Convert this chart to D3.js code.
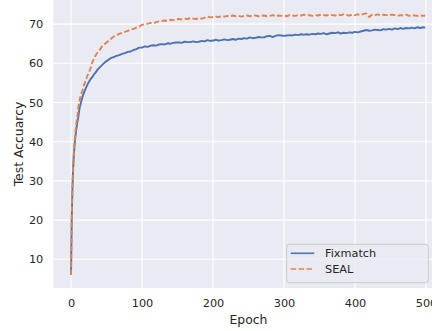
<!DOCTYPE html>
<html>
<head>
<meta charset="utf-8">
<script src="https://cdn.jsdelivr.net/npm/d3@7"></script>
<style>
  body { margin: 0; background: #fff; }
  text { font-family: "DejaVu Sans", sans-serif; fill: #262626; }
</style>
</head>
<body>
<div id="chart"></div>
<script>
// epochs sampled from the curves (denser at the start where it climbs fast)
const epochs = [
    0, 1, 2, 3, 4, 5, 6, 7, 8, 9,
    10, 12, 14, 16, 18, 20, 22, 24, 26, 28,
    30, 32, 34, 36, 38, 40, 44, 48, 52, 56,
    60, 64, 68, 72, 76, 80, 84, 88, 92, 96,
    100, 104, 108, 112, 116, 120, 124, 128, 132, 136,
    140, 144, 148, 152, 156, 160, 164, 168, 172, 176,
    180, 184, 188, 192, 196, 200, 204, 208, 212, 216,
    220, 224, 228, 232, 236, 240, 244, 248, 252, 256,
    260, 264, 268, 272, 276, 280, 284, 288, 292, 296,
    300, 304, 308, 312, 316, 320, 324, 328, 332, 336,
    340, 344, 348, 352, 356, 360, 364, 368, 372, 376,
    380, 384, 388, 392, 396, 400, 404, 408, 412, 416,
    420, 424, 428, 432, 436, 440, 444, 448, 452, 456,
    460, 464, 468, 472, 476, 480, 484, 488, 492, 496,
    499
];

const fixmatch = [
    6.0, 20.0, 28.0, 33.0, 36.5, 39.0, 41.0, 42.5, 43.8, 45.0,
    46.0, 48.5, 50.0, 51.3, 52.4, 53.3, 54.1, 54.9, 55.5, 56.1,
    56.5, 57.1, 57.5, 58.0, 58.5, 58.9, 59.6, 60.3, 60.8, 61.3,
    61.6, 61.9, 62.1, 62.4, 62.6, 62.9, 63.0, 63.4, 63.6, 64.0,
    64.0, 64.3, 64.2, 64.5, 64.6, 64.5, 64.8, 64.9, 64.8, 65.1,
    65.0, 65.2, 65.3, 65.3, 65.2, 65.5, 65.4, 65.4, 65.6, 65.4,
    65.5, 65.7, 65.6, 65.9, 65.7, 65.8, 66.0, 65.8, 65.9, 66.1,
    65.9, 66.0, 66.2, 66.0, 66.3, 66.2, 66.4, 66.3, 66.6, 66.4,
    66.5, 66.7, 66.6, 66.6, 66.9, 67.0, 66.7, 67.0, 67.2, 67.1,
    67.0, 67.1, 67.2, 67.1, 67.3, 67.2, 67.4, 67.3, 67.4, 67.3,
    67.5, 67.4, 67.6, 67.5, 67.7, 67.4, 67.6, 67.8, 67.7, 67.9,
    67.6, 67.8, 67.7, 67.9, 67.8, 68.0, 67.9, 68.1, 68.3, 68.5,
    68.3, 68.4, 68.6, 68.5, 68.4, 68.7, 68.6, 68.8, 68.6, 68.9,
    68.7, 69.0, 68.8, 69.0, 68.9, 69.1, 68.9, 69.2, 69.0, 69.2,
    69.1
];

const seal = [
    6.0, 21.0, 29.0, 34.0, 37.5, 40.0, 42.0, 43.8, 45.3, 46.5,
    48.3, 50.5, 52.0, 53.0, 54.3, 55.3, 56.3, 57.2, 58.0, 59.0,
    60.3, 61.0, 61.8, 62.4, 62.9, 63.3, 64.4, 65.0, 65.6, 66.2,
    66.8, 67.2, 67.5, 67.8, 68.0, 68.3, 68.6, 68.8, 69.1, 69.3,
    69.8, 70.0, 70.1, 70.3, 70.2, 70.5, 70.7, 70.8, 70.9, 70.8,
    71.1, 71.0, 71.2, 71.3, 71.2, 71.4, 71.3, 71.5, 71.4, 71.3,
    71.5, 71.4, 71.6, 71.9, 71.7, 71.8, 71.9, 71.8, 72.0, 71.9,
    72.1, 72.0, 72.2, 72.0, 72.1, 71.9, 72.1, 72.2, 72.0, 72.1,
    72.2, 72.0, 72.1, 72.2, 72.0, 72.1, 72.3, 72.0, 72.2, 72.1,
    72.2, 72.0, 72.3, 72.2, 72.1, 72.3, 72.2, 72.4, 72.2, 72.3,
    72.1, 72.3, 72.2, 72.4, 72.3, 72.2, 72.4, 72.3, 72.2, 72.4,
    72.3, 72.5, 72.3, 72.2, 72.4, 72.3, 72.5, 72.3, 72.6, 72.7,
    71.8, 72.4, 72.3, 72.5, 72.2, 72.4, 72.3, 72.2, 72.4, 72.3,
    72.1, 72.3, 72.2, 72.4, 72.1, 72.3, 72.2, 72.1, 72.2, 72.1,
    72.2
];

const xTicks = [0, 100, 200, 300, 400, 500];
const yTicks = [10, 20, 30, 40, 50, 60, 70];
const seriesNames = ["Fixmatch", "SEAL"];

function createChart() {
    const width = 432;
    const height = 331;
    const plot = { left: 53.3, right: 443, top: -0.8, bottom: 288.1 };

    const svg = d3.select("#chart")
        .append("svg")
        .attr("width", width)
        .attr("height", height);

    const xScale = d3.scaleLinear()
        .domain([-24.95, 523.95])
        .range([plot.left, plot.right]);

    const yScale = d3.scaleLinear()
        .domain([2.65, 76.35])
        .range([plot.bottom, plot.top]);

    // seaborn darkgrid background
    svg.append("rect")
        .attr("x", plot.left)
        .attr("y", 0)
        .attr("width", plot.right - plot.left)
        .attr("height", plot.bottom)
        .attr("fill", "#EAEAF2");

    // grid
    svg.append("g")
        .selectAll("line")
        .data(xTicks)
        .enter().append("line")
        .attr("x1", d => xScale(d)).attr("x2", d => xScale(d))
        .attr("y1", 0).attr("y2", plot.bottom)
        .attr("stroke", "#fff").attr("stroke-width", 1.1);

    svg.append("g")
        .selectAll("line")
        .data(yTicks)
        .enter().append("line")
        .attr("x1", plot.left).attr("x2", plot.right)
        .attr("y1", d => yScale(d)).attr("y2", d => yScale(d))
        .attr("stroke", "#fff").attr("stroke-width", 1.1);

    // axes (no spines, no tick marks)
    const xAxis = svg.append("g")
        .attr("transform", `translate(0, ${plot.bottom})`)
        .call(d3.axisBottom(xScale).tickValues(xTicks).tickSize(0).tickPadding(11).tickFormat(d3.format("d")));
    xAxis.select(".domain").remove();
    xAxis.selectAll("text").style("font-size", "11.3px").attr("fill", "#262626");

    const yAxis = svg.append("g")
        .attr("transform", `translate(${plot.left}, 0)`)
        .call(d3.axisLeft(yScale).tickValues(yTicks).tickSize(0).tickPadding(10).tickFormat(d3.format("d")));
    yAxis.select(".domain").remove();
    yAxis.selectAll("text").style("font-size", "11.3px").attr("fill", "#262626");

    svg.append("text")
        .attr("x", (71 + 426) / 2)
        .attr("y", 324)
        .attr("text-anchor", "middle")
        .style("font-size", "12.4px")
        .text("Epoch");

    svg.append("text")
        .attr("transform", `translate(23, ${plot.bottom / 2}) rotate(-90)`)
        .attr("text-anchor", "middle")
        .style("font-size", "12.4px")
        .text("Test Accuarcy");

    // lines
    const series = [
        { name: seriesNames[0], values: fixmatch, color: "#4C72B0", dash: null },
        { name: seriesNames[1], values: seal, color: "#DD8452", dash: "5.5,2.4" }
    ];

    const line = d3.line()
        .x((d, i) => xScale(epochs[i]))
        .y(d => yScale(d));

    svg.selectAll(".series")
        .data(series)
        .enter().append("path")
        .attr("class", "series")
        .attr("d", d => line(d.values))
        .attr("fill", "none")
        .attr("stroke", d => d.color)
        .attr("stroke-width", 1.9)
        .attr("stroke-dasharray", d => d.dash)
        .attr("stroke-linejoin", "round");

    // legend
    const legend = svg.append("g").attr("transform", "translate(286.7, 244.3)");
    legend.append("rect")
        .attr("width", 141.6)
        .attr("height", 38.4)
        .attr("rx", 3)
        .attr("fill", "#EAEAF2")
        .attr("fill-opacity", 0.8)
        .attr("stroke", "#cccccc")
        .attr("stroke-width", 1);

    const items = legend.selectAll(".item")
        .data(series)
        .enter().append("g")
        .attr("class", "item")
        .attr("transform", (d, i) => `translate(0, ${9 + i * 15.7})`);

    items.append("line")
        .attr("x1", 4).attr("x2", 27.6)
        .attr("stroke", d => d.color)
        .attr("stroke-width", 1.6)
        .attr("stroke-dasharray", d => d.dash);

    items.append("text")
        .attr("x", 38.3)
        .attr("dy", "0.35em")
        .style("font-size", "11.3px")
        .text(d => d.name);
}

document.addEventListener("DOMContentLoaded", createChart);
</script>
</body>
</html>
